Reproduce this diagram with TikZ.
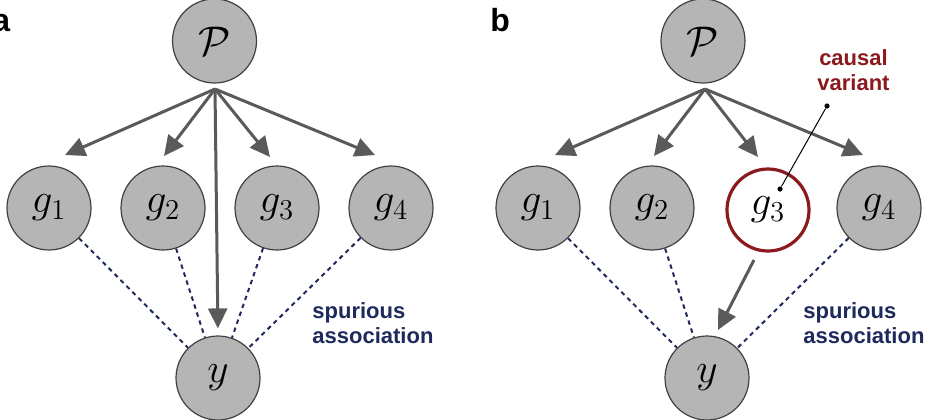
\documentclass[tikz,border=0pt]{standalone}
\usepackage{fontspec}
\setmainfont{Liberation Sans}
\usetikzlibrary{arrows.meta}
\definecolor{nodegray}{HTML}{B5B5B5}
\definecolor{arrgray}{HTML}{5A5A5A}
\definecolor{navy}{HTML}{1E2A5C}
\definecolor{darkred}{HTML}{8B1A1F}
\tikzset{
  var/.style={circle, draw=black!75, line width=0.6pt, fill=nodegray, minimum size=42pt, inner sep=0pt, font=\fontsize{20}{24}\selectfont},
  causal/.style={circle, draw=darkred, line width=1.6pt, fill=white, minimum size=41pt, inner sep=0pt, font=\fontsize{20}{24}\selectfont},
  arr/.style={draw=arrgray, line width=1.5pt, -{Triangle[length=10pt,width=9.5pt]}},
  spur/.style={draw=navy, line width=1pt, dash pattern=on 2.2pt off 2pt},
  lbl/.style={font=\fontsize{11}{12.5}\selectfont\bfseries, align=left, inner sep=0pt, anchor=base west},
  panel/.style={font=\fontsize{16}{18}\selectfont\bfseries, inner sep=0pt, anchor=base west},
  dot/.style={circle, fill=black, inner sep=0pt, minimum size=2.6pt}
}
\begin{document}
\begin{tikzpicture}[x=0.5pt, y=-0.5pt]
\useasboundingbox (0,0) rectangle (939,419);
% ---------- panel a ----------
\node[panel] (la) at (-8,31) {a};
\node[var] (aP) at (214.5,41) {$\mathcal{P}$};
\node[var] (ag1) at (49,208) {$g_1$};
\node[var] (ag2) at (163,208) {$g_2$};
\node[var] (ag3) at (277,208) {$g_3$};
\node[var] (ag4) at (391,208) {$g_4$};
\node[var] (ay) at (218,378) {$y$};
\coordinate (ap) at (215,89);
\coordinate (at1) at (65,155);
\coordinate (at2) at (164,156);
\coordinate (at3) at (270,157);
\coordinate (at4) at (375,155);
\foreach \i in {1,2,3,4} \draw[spur] (ag\i) -- (ay);
\draw[arr] (ap) -- (at1);
\draw[arr] (ap) -- (at2);
\draw[arr] (ap) -- (at3);
\draw[arr] (ap) -- (at4);
\draw[arr, shorten >=3.5pt] (ap) -- (ay.north);
\node[lbl, text=navy] (asp) at (312,343) {spurious\\association};
% ---------- panel b ----------
\node[panel] (lb) at (490,31) {b};
\node[var] (bP) at (703,41) {$\mathcal{P}$};
\node[var] (bg1) at (538,208) {$g_1$};
\node[var] (bg2) at (652,208) {$g_2$};
\node[causal] (bg3) at (768,210) {$g_3$};
\node[var] (bg4) at (879,208) {$g_4$};
\node[var] (by) at (707,378) {$y$};
\coordinate (bp) at (705,89);
\coordinate (bt1) at (555,155);
\coordinate (bt2) at (654,156);
\coordinate (bt3) at (758,157);
\coordinate (bt4) at (863,155);
\coordinate (bs3) at (754,260);
\coordinate (by3) at (718,330);
\draw[spur] (bg1) -- (by);
\draw[spur] (bg2) -- (by);
\draw[spur] (bg4) -- (by);
\draw[arr] (bp) -- (bt1);
\draw[arr] (bp) -- (bt2);
\draw[arr] (bp) -- (bt3);
\draw[arr] (bp) -- (bt4);
\draw[arr] (bs3) -- (by3);
\node[lbl, text=navy] (bsp) at (803,343) {spurious\\association};
\node[font=\fontsize{11}{12.5}\selectfont\bfseries, align=center, text=darkred, inner sep=0pt, anchor=base] (cv) at (853.5,90) {causal\\variant};
\node[dot] (d1) at (827,106) {};
\node[dot] (d2) at (780,189) {};
\draw[black, line width=0.5pt] (d1) -- (d2);
\end{tikzpicture}
\end{document}
